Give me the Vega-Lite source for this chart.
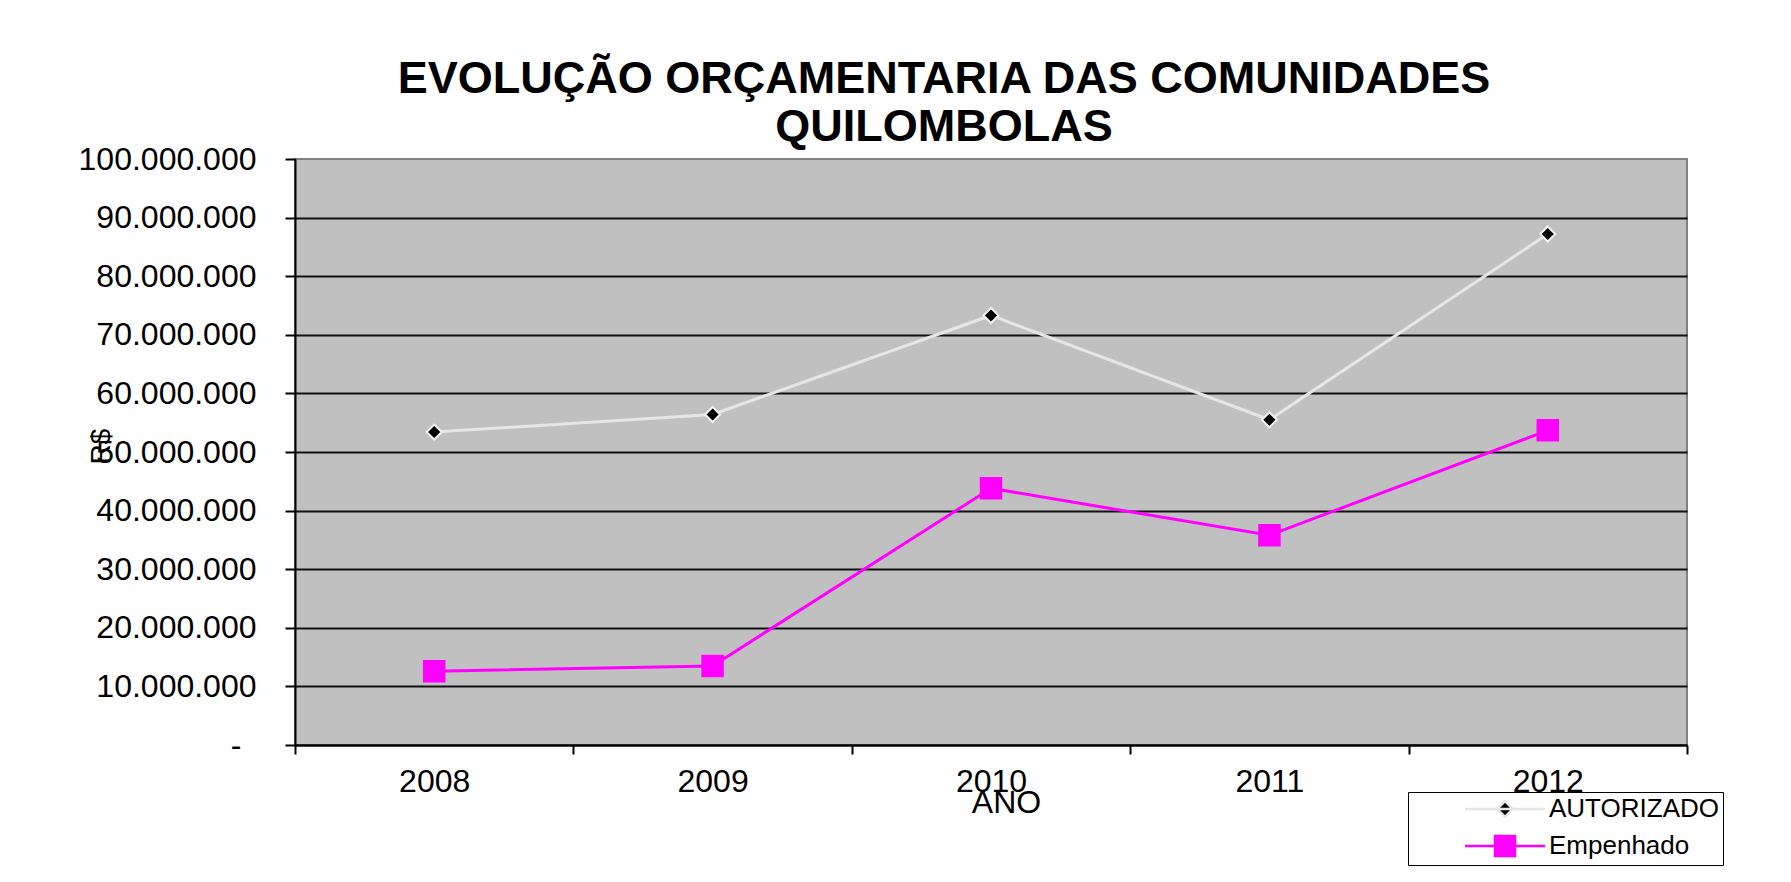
{
  "$schema": "https://vega.github.io/schema/vega-lite/v6.json",
  "width": 1392,
  "height": 586,
  "autosize": {"type": "none"},
  "padding": {"left": 295, "top": 159, "right": 104, "bottom": 137},
  "background": "white",
  "config": {
    "locale": {"number": {"decimal": ",", "thousands": ".", "grouping": [3], "currency": ["R$ ", ""]}},
    "font": "Liberation Sans",
    "view": {"fill": "#C0C0C0", "stroke": "#808080", "strokeWidth": 2}
  },
  "title": {
    "text": ["EVOLUÇÃO ORÇAMENTARIA DAS COMUNIDADES", "QUILOMBOLAS"],
    "font": "Liberation Sans",
    "fontSize": 45,
    "fontWeight": "bold",
    "color": "black",
    "anchor": "middle",
    "dx": -47,
    "dy": 21,
    "offset": 14,
    "lineHeight": 48
  },
  "data": {
    "values": [
      {"ano": "2008", "serie": "AUTORIZADO", "valor": 53400000},
      {"ano": "2009", "serie": "AUTORIZADO", "valor": 56400000},
      {"ano": "2010", "serie": "AUTORIZADO", "valor": 73300000},
      {"ano": "2011", "serie": "AUTORIZADO", "valor": 55500000},
      {"ano": "2012", "serie": "AUTORIZADO", "valor": 87200000},
      {"ano": "2008", "serie": "Empenhado", "valor": 12600000},
      {"ano": "2009", "serie": "Empenhado", "valor": 13500000},
      {"ano": "2010", "serie": "Empenhado", "valor": 43800000},
      {"ano": "2011", "serie": "Empenhado", "valor": 35800000},
      {"ano": "2012", "serie": "Empenhado", "valor": 53700000}
    ]
  },
  "encoding": {
    "x": {
      "field": "ano",
      "type": "ordinal",
      "scale": {"type": "band", "paddingInner": 0, "paddingOuter": 0},
      "axis": {
        "title": "ANO",
        "labelAngle": 0,
        "labelFontSize": 32,
        "labelColor": "black",
        "labelPadding": 12,
        "tickSize": 9,
        "tickWidth": 2,
        "tickColor": "black",
        "tickBand": "extent",
        "domainColor": "black",
        "domainWidth": 2,
        "grid": false,
        "titleFontSize": 32,
        "titleFontWeight": "normal",
        "titleColor": "black",
        "titleX": 711,
        "titleY": 67,
        "titleAlign": "center",
        "titleBaseline": "alphabetic"
      }
    },
    "y": {
      "field": "valor",
      "type": "quantitative",
      "scale": {"domain": [0, 100000000], "nice": false},
      "axis": {
        "title": "R$",
        "values": [0, 10000000, 20000000, 30000000, 40000000, 50000000, 60000000, 70000000, 80000000, 90000000, 100000000],
        "labelExpr": "datum.value == 0 ? '-' : format(datum.value, ',.0f')",
        "labelFontSize": 32,
        "labelColor": "black",
        "labelPadding": {"condition": {"test": "datum.value == 0", "value": 44}, "value": 29},
        "tickSize": 10,
        "tickWidth": 2,
        "tickColor": "black",
        "domainColor": "black",
        "domainWidth": 2,
        "grid": true,
        "gridColor": {"condition": {"test": "datum.value >= 100000000", "value": "transparent"}, "value": "#111111"},
        "gridWidth": 2,
        "titleFontSize": 28,
        "titleFontWeight": "normal",
        "titleColor": "black",
        "titleAngle": 270,
        "titleX": -194,
        "titleY": 287,
        "titleAlign": "center",
        "titleBaseline": "middle"
      }
    }
  },
  "layer": [
    {
      "mark": {"type": "line", "strokeWidth": 3},
      "encoding": {
        "color": {
          "field": "serie",
          "type": "nominal",
          "scale": {"domain": ["AUTORIZADO", "Empenhado"], "range": ["#E6E6E6", "#FF00FF"]},
          "legend": {
            "orient": "none",
            "legendX": 1113,
            "legendY": 633,
            "title": null,
            "strokeColor": "black",
            "fillColor": "white",
            "padding": 4,
            "labelFontSize": 26,
            "labelColor": "black",
            "labelLimit": 0,
            "symbolSize": 400,
            "symbolOffset": 80,
            "labelOffset": 31,
            "rowPadding": 9,
            "symbolStrokeWidth": 2.5,
            "symbolType": {"expr": "datum.value == 'AUTORIZADO' ? 'M-4,0L4,0M0,-0.8L0.8,0L0,0.8L-0.8,0Z' : 'M-4,0L4,0M-1,-1L1,-1L1,1L-1,1Z'"},
            "symbolFillColor": {"expr": "datum.value == 'AUTORIZADO' ? 'black' : '#FF00FF'"}
          }
        }
      }
    },
    {
      "transform": [{"filter": "datum.serie == 'AUTORIZADO'"}],
      "mark": {"type": "point", "shape": "diamond", "filled": true, "opacity": 1, "fill": "black", "stroke": "#F2F2F2", "strokeWidth": 2, "size": 225}
    },
    {
      "transform": [{"filter": "datum.serie == 'Empenhado'"}],
      "mark": {"type": "point", "shape": "square", "filled": true, "opacity": 1, "fill": "#FF00FF", "stroke": "#FF00FF", "strokeWidth": 2, "size": 420}
    }
  ]
}
